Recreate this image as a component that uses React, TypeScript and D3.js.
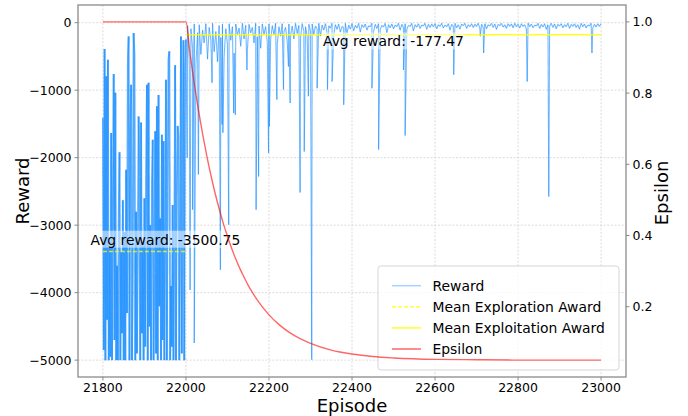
import React, { useEffect, useRef } from 'react';
import * as d3 from 'd3';

const WIDTH = 688;
const HEIGHT = 416;

// exploration phase, one value every 2 episodes from 21800
const explorationStart = 21800;
const explorationStep = 2;
const explorationRewards = [
  -1410, -4850, -390, -5000, -795, -4400, -550, -5000, -3300, -4950,
  -1635, -5000, -2700, -760, -4700, -1040, -5000, -3600, -5000, -2900,
  -1920, -5000, -3400, -4600, -2630, -5000, -3100, -5000, -2180, -4300,
  -563, -203, -5000, -1478, -920, -5000, -3800, -153, -474, -5000,
  -2800, -4900, -3500, -1390, -2280, -5000, -1480, -4600, -3300, -5000,
  -2600, -4800, -2250, -920, -5000, -890, -4500, -3000, -5000, -2400,
  -1735, -5000, -3700, -1610, -4900, -1240, -5000, -1070, -4200, -2900,
  -5000, -1660, -4700, -1755, -5000, -3200, -845, -5000, -2500, -540,
  -425, -5000, -3900, -4800, -2700, -5000, -3300, -630, -5000, -2600,
  -1530, -1680, -5000, -3000, -203, -4900, -2200, -260, -5000, -720,
];

// exploitation phase, one value every 4 episodes from 22000 to 23000
const exploitationStart = 22000;
const exploitationStep = 4;
const exploitationRewards = [
  -250, -40, -560, -90, -380, -20, -620, -150, -30, -470, -110, -300, -15, -540, -70, -260, -10, -430, -130, -580, -40, -220, -20, -500, -90,
  -320, -15, -260, -60, -450, -20, -180, -80, -350, -10, -240, -40, -400, -25, -150, -70, -300, -10, -210, -50, -380, -20, -170, -60, -290,
  -20, -250, -45, -180, -10, -320, -60, -200, -15, -140, -70, -280, -20, -190, -50, -240, -10, -160, -40, -220, -15, -130, -60, -200, -25,
  -120, -20, -170, -50, -90, -10, -200, -35, -110, -15, -150, -45, -80, -10, -190, -30, -100, -20, -140, -55, -75, -10, -160, -35, -95,
  -15, -120, -40, -80, -10, -140, -30, -70, -20, -110, -45, -60, -10, -130, -25, -85, -15, -100, -40, -65, -10, -150, -30, -75, -20,
  -90, -35, -60, -10, -110, -25, -70, -15, -95, -40, -55, -10, -120, -30, -65, -15, -85, -35, -50, -10, -100, -25, -70, -20, -60,
  -15, -90, -30, -55, -10, -80, -35, -60, -15, -110, -25, -50, -10, -75, -30, -95, -20, -45, -10, -85, -30, -60, -15, -70, -25,
  -55, -10, -80, -25, -60, -15, -90, -30, -50, -10, -70, -20, -100, -25, -45, -10, -65, -30, -85, -15, -55, -20, -75, -10, -60,
  -25, -80, -15, -55, -30, -95, -10, -60, -20, -75, -35, -50, -10, -85, -25, -65, -15, -100, -30, -55, -10, -70, -20, -90, -25,
  -50, -15, -75, -30, -60, -10, -85, -25, -55, -15, -70, -30, -95, -10, -60, -20, -80, -35, -50, -10, -75, -25, -65, -15, -55, -20,
];

// single-episode dips during exploitation [episode, reward]
const rewardDips: [number, number][] = [
  [22003, -2000], [22010, -3960], [22016, -2770], [22020, -4745], [22030, -2250],
  [22063, -890], [22083, -3660], [22087, -1510], [22089, -1630], [22103, -2995],
  [22115, -1340], [22119, -1365], [22147, -700], [22169, -2772], [22175, -2280],
  [22199, -1930], [22201, -1540], [22219, -1140], [22235, -990], [22247, -650],
  [22251, -1190], [22275, -2515], [22285, -1910], [22295, -1090], [22303, -4995],
  [22316, -970], [22341, -990], [22352, -870], [22380, -1215], [22448, -970],
  [22464, -1880], [22524, -700], [22528, -1670], [22645, -770], [22709, -200],
  [22717, -450], [22822, -870], [22874, -2575], [22978, -450],
];

const epsilonEpisodes = [
  21800, 22000, 22010, 22020, 22030, 22040, 22050, 22060, 22070, 22080, 22090,
  22100, 22110, 22120, 22130, 22140, 22150, 22160, 22170, 22180, 22190, 22200,
  22225, 22250, 22275, 22300, 22350, 22400, 22450, 22500, 22600, 22700, 22800, 23000,
];
const epsilonValues = [
  1.0, 1.0, 0.909, 0.827, 0.753, 0.686, 0.625, 0.57, 0.52, 0.475, 0.434,
  0.398, 0.364, 0.334, 0.307, 0.283, 0.26, 0.24, 0.222, 0.206, 0.191, 0.177,
  0.149, 0.127, 0.11, 0.097, 0.078, 0.067, 0.06, 0.056, 0.052, 0.051, 0.05, 0.05,
];

const meanExploration = -3390;
const meanExploitation = -177.47;
const explorationLabel = 'Avg reward: -3500.75';
const exploitationLabel = 'Avg reward: -177.47';

const xTicks = [21800, 22000, 22200, 22400, 22600, 22800, 23000];
const rewardTicks = [0, -1000, -2000, -3000, -4000, -5000];
const epsilonTicks = [0.2, 0.4, 0.6, 0.8, 1.0];
const legendLabels = ['Reward', 'Mean Exploration Award', 'Mean Exploitation Award', 'Epsilon'];

const FONT = '"DejaVu Sans", Verdana, sans-serif';
const BLUE = '#1e90ff';
const RED = '#ff0000';
const YELLOW = '#ffff00';
const SPINE = '#8a8a8a';

export default function App() {
  const svgRef = useRef<SVGSVGElement>(null);

  useEffect(() => {
    if (!svgRef.current) return;
    const svg = d3.select(svgRef.current);
    svg.selectAll('*').remove();

    const left = 78, right = 626, top = 5, bottom = 377;
    const x = d3.scaleLinear().domain([21740, 23060]).range([left, right]);
    const y = d3.scaleLinear().domain([-5250, 262]).range([bottom, top]);
    const y2 = d3.scaleLinear().domain([0.0025, 1.0475]).range([bottom, top]);

    // grid
    const grid = svg.append('g')
      .attr('stroke', '#d2d2d2')
      .attr('stroke-width', 0.8)
      .attr('stroke-dasharray', '2,1.6');
    xTicks.forEach(t => {
      grid.append('line').attr('x1', x(t)).attr('x2', x(t)).attr('y1', top).attr('y2', bottom);
    });
    rewardTicks.forEach(t => {
      grid.append('line').attr('x1', left).attr('x2', right).attr('y1', y(t)).attr('y2', y(t));
    });

    // reward series, drawn segment by segment so overlaps build up
    const rewards: [number, number][] = [
      ...explorationRewards.map((r, i) => [explorationStart + i * explorationStep, r] as [number, number]),
      ...exploitationRewards.map((r, i) => [exploitationStart + i * exploitationStep, r] as [number, number]),
      ...rewardDips,
    ].sort((a, b) => a[0] - b[0]);

    const isExploration = (d: [number, number][]) => d[1][0] <= exploitationStart;
    svg.append('g')
      .selectAll('line')
      .data(d3.pairs(rewards))
      .join('line')
      .attr('x1', d => x(d[0][0]))
      .attr('y1', d => y(d[0][1]))
      .attr('x2', d => x(d[1][0]))
      .attr('y2', d => y(d[1][1]))
      .attr('stroke', BLUE)
      .attr('stroke-opacity', d => (isExploration(d) ? 0.72 : 0.62))
      .attr('stroke-width', d => (isExploration(d) ? 1.8 : 1.1));

    // mean lines
    svg.append('line')
      .attr('x1', x(21800)).attr('x2', x(22000))
      .attr('y1', y(meanExploration)).attr('y2', y(meanExploration))
      .attr('stroke', YELLOW).attr('stroke-opacity', 0.75)
      .attr('stroke-width', 1.5).attr('stroke-dasharray', '4,2');
    svg.append('line')
      .attr('x1', x(22000)).attr('x2', x(23000))
      .attr('y1', y(meanExploitation)).attr('y2', y(meanExploitation))
      .attr('stroke', YELLOW).attr('stroke-opacity', 0.85)
      .attr('stroke-width', 1.5);

    // annotations with a translucent box
    const annotate = (ep: number, r: number, label: string) => {
      const g = svg.append('g');
      const t = g.append('text')
        .attr('x', x(ep)).attr('y', y(r))
        .style('font-family', FONT).style('font-size', '13.9px')
        .attr('fill', '#000')
        .text(label);
      const b = (t.node() as SVGTextElement).getBBox();
      g.insert('rect', 'text')
        .attr('x', b.x - 1).attr('y', b.y - 1)
        .attr('width', b.width + 2).attr('height', b.height + 1)
        .attr('fill', '#fff').attr('fill-opacity', 0.5);
    };
    annotate(21770, meanExploration + 100, explorationLabel);
    annotate(22330, -351, exploitationLabel);

    // legend (belongs to the reward axes)
    const lg = svg.append('g');
    lg.append('rect')
      .attr('x', 378).attr('y', 266).attr('width', 241).attr('height', 104)
      .attr('rx', 3)
      .attr('fill', '#fff').attr('fill-opacity', 0.8)
      .attr('stroke', '#cccccc').attr('stroke-opacity', 0.8);
    const styles = [
      { c: BLUE, o: 0.4, dash: null as string | null },
      { c: YELLOW, o: 0.8, dash: '4,2' },
      { c: YELLOW, o: 0.85, dash: null },
      { c: RED, o: 0.6, dash: null },
    ];
    legendLabels.forEach((label, i) => {
      const cy = 285.7 + i * 21.1;
      const ln = lg.append('line')
        .attr('x1', 392).attr('x2', 421).attr('y1', cy).attr('y2', cy)
        .attr('stroke', styles[i].c).attr('stroke-opacity', styles[i].o)
        .attr('stroke-width', 1.5);
      if (styles[i].dash) ln.attr('stroke-dasharray', styles[i].dash as string);
      lg.append('text')
        .attr('x', 432.5).attr('y', cy).attr('dy', '0.35em')
        .style('font-family', FONT).style('font-size', '13.9px')
        .text(label);
    });

    // epsilon on the twin axis
    const epsLine = d3.line<number>()
      .x((_, i) => x(epsilonEpisodes[i]))
      .y(d => y2(d))
      .curve(d3.curveMonotoneX);
    svg.append('path')
      .attr('d', epsLine(epsilonValues) as string)
      .attr('fill', 'none')
      .attr('stroke', RED).attr('stroke-opacity', 0.6)
      .attr('stroke-width', 1.4);

    // spines
    svg.append('rect')
      .attr('x', left).attr('y', top).attr('width', right - left).attr('height', bottom - top)
      .attr('fill', 'none').attr('stroke', SPINE).attr('stroke-width', 1.3);

    // ticks and labels
    const tickText = (s: number) => String(s).replace('-', '\u2212');
    const axes = svg.append('g').style('font-family', FONT).style('font-size', '12.5px');
    xTicks.forEach(t => {
      axes.append('line').attr('x1', x(t)).attr('x2', x(t)).attr('y1', bottom).attr('y2', bottom + 3.5)
        .attr('stroke', SPINE).attr('stroke-width', 1);
      axes.append('text').attr('x', x(t)).attr('y', 391.5).attr('text-anchor', 'middle').text(tickText(t));
    });
    rewardTicks.forEach(t => {
      axes.append('line').attr('x1', left - 3.5).attr('x2', left).attr('y1', y(t)).attr('y2', y(t))
        .attr('stroke', SPINE).attr('stroke-width', 1);
      axes.append('text').attr('x', 71.5).attr('y', y(t)).attr('dy', '0.36em')
        .attr('text-anchor', 'end').text(tickText(t));
    });
    epsilonTicks.forEach(t => {
      axes.append('line').attr('x1', right).attr('x2', right + 3.5).attr('y1', y2(t)).attr('y2', y2(t))
        .attr('stroke', SPINE).attr('stroke-width', 1);
      axes.append('text').attr('x', 632.5).attr('y', y2(t)).attr('dy', '0.36em')
        .text(t.toFixed(1));
    });

    // axis titles
    const titles = svg.append('g').style('font-family', FONT).style('font-size', '18px');
    titles.append('text').attr('x', (left + right) / 2).attr('y', 411.5)
      .attr('text-anchor', 'middle').text('Episode');
    titles.append('text').attr('transform', `translate(29,${(top + bottom) / 2}) rotate(-90)`)
      .attr('text-anchor', 'middle').text('Reward');
    titles.append('text').attr('transform', `translate(668,${(top + bottom) / 2 + 2}) rotate(-90)`)
      .attr('text-anchor', 'middle').text('Epsilon');
  }, []);

  return (
    <svg
      ref={svgRef}
      width={WIDTH}
      height={HEIGHT}
      style={{ position: 'absolute', left: 0, top: 0, display: 'block', background: '#fff' }}
    />
  );
}
